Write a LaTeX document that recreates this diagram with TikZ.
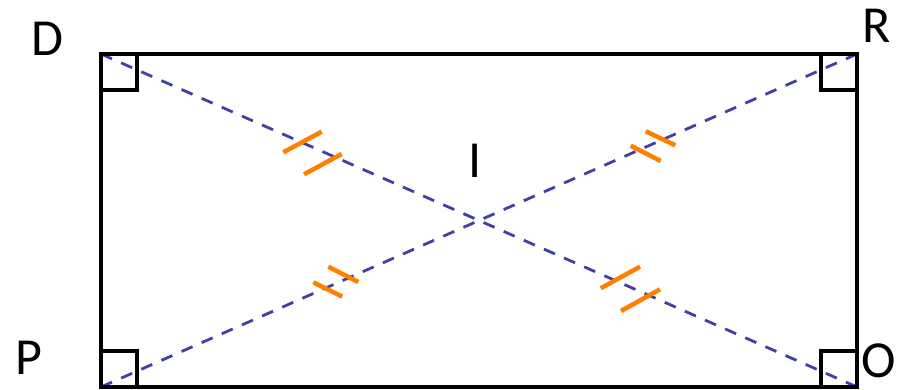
\documentclass[tikz,border=0pt]{standalone}
\usepackage{fontspec}
\setmainfont{Carlito}
\definecolor{diagblue}{RGB}{64,64,168}
\definecolor{tickorange}{RGB}{255,128,0}
\begin{document}
\begin{tikzpicture}[x=1pt,y=-1pt,
  edge/.style={line width=4.5pt},
  rightangle/.style={line width=4pt},
  diag/.style={draw=diagblue,line width=2.8pt,dash pattern=on 12pt off 10pt},
  tick/.style={draw=tickorange,line width=4.5pt},
  lbl/.style={inner sep=0pt,anchor=base,font=\fontsize{52}{60}\selectfont}]
\useasboundingbox (0,0) rectangle (900,390);
\coordinate (D) at (101,54);
\coordinate (R) at (857,54);
\coordinate (P) at (101,387);
\coordinate (O) at (857,387);
% diagonals
\draw[diag] (D) -- (O);
\draw[diag] (P) -- (R);
% rectangle
\draw[edge] (D) -- (R) -- (O) -- (P) -- cycle;
% right-angle marks
\draw[rightangle] (101,90) -- (137,90) -- (137,54);
\draw[rightangle] (821,54) -- (821,90) -- (857,90);
\draw[rightangle] (101,351) -- (137,351) -- (137,387);
\draw[rightangle] (857,351) -- (821,351) -- (821,387);
% equal-length ticks
\draw[tick] (283.3,152.3) -- (321.7,131.7);
\draw[tick] (304,174.3) -- (341.7,154);
\draw[tick] (630.7,145.7) -- (660.7,161);
\draw[tick] (645.7,131.3) -- (675.3,145.3);
\draw[tick] (313.3,282.3) -- (342.3,296.7);
\draw[tick] (328.3,266.7) -- (358.3,282);
\draw[tick] (600.7,288.3) -- (640,266.7);
\draw[tick] (621,311) -- (660,289.3);
% labels
\node[lbl] (lD) at (47,56) {D};
\node[lbl] (lR) at (877,43) {R};
\node[lbl] (lP) at (29,374) {P};
\node[lbl] (lO) at (879,377) {O};
\node[lbl] (lI) at (475,178) {I};
\end{tikzpicture}
\end{document}
